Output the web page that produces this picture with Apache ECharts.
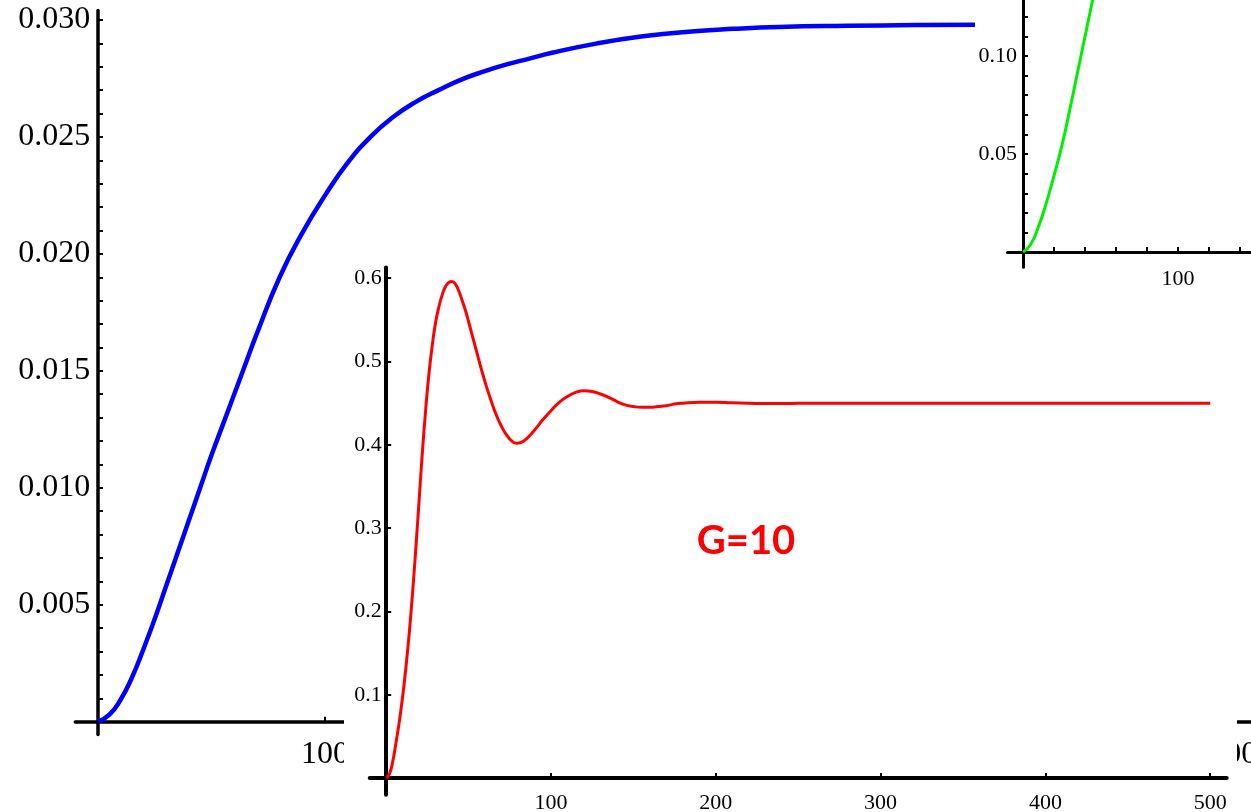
<!doctype html>
<html>
<head>
    <title>G=10 response</title>
    <script src="https://cdn.jsdelivr.net/npm/echarts@6/dist/echarts.min.js"></script>
</head>
<style>
    html, body {
        margin: 0;
        padding: 0;
        background: #fff;
    }
    #main {
        width: 1251px;
        height: 812px;
    }
</style>
<body>
<div id="main"></div>
<script>
  // background plot (blue)
  var blueT = [0, 5, 10, 15, 20, 25, 30, 35, 40, 45, 50, 55, 60, 65, 70, 80, 90, 100, 110, 120, 130,
               140, 150, 160, 170, 180, 190, 200, 220, 240, 260, 280, 300, 330, 360, 390];
  var blueV = [0, 0.0003, 0.00095, 0.0019, 0.0031, 0.0044, 0.0058, 0.0072, 0.0086, 0.0100, 0.0114,
               0.0127, 0.0140, 0.0153, 0.0166, 0.0190, 0.0209, 0.0225, 0.0239, 0.0250, 0.02585,
               0.0265, 0.0270, 0.02745, 0.0278, 0.0281, 0.02835, 0.0286, 0.0290, 0.0293, 0.0295,
               0.02962, 0.0297, 0.02975, 0.02978, 0.0298];
  var blueXLabels = [100, 200, 300, 400, 500];
  var blueYLabels = [0.005, 0.010, 0.015, 0.020, 0.025, 0.030];
  var blueYTicks = [0.001, 0.002, 0.003, 0.004, 0.005, 0.006, 0.007, 0.008, 0.009, 0.010,
                    0.011, 0.012, 0.013, 0.014, 0.015, 0.016, 0.017, 0.018, 0.019, 0.020,
                    0.021, 0.022, 0.023, 0.024, 0.025, 0.026, 0.027, 0.028, 0.029, 0.030];

  // middle inset (red, G=10)
  var redT = [0, 2, 4, 6, 8, 10, 12, 14, 16, 18, 20, 22, 24, 26, 28, 30, 32, 34, 36, 38, 40, 42, 44, 46, 48,
              50, 52, 55, 58, 61, 64, 67, 70, 73, 76, 79, 82, 85, 88, 91, 95, 100, 105, 110, 115, 120,
              125, 130, 135, 140, 145, 150, 155, 160, 165, 170, 175, 180, 190, 200, 210, 220, 230, 240,
              250, 270, 300, 350, 400, 450, 500];
  var redV = [0, 0.005, 0.020, 0.043, 0.068, 0.098, 0.133, 0.174, 0.222, 0.276, 0.334, 0.392, 0.443, 0.486,
              0.520, 0.547, 0.566, 0.580, 0.590, 0.595, 0.596, 0.593, 0.585, 0.574, 0.562,
              0.548, 0.533, 0.511, 0.489, 0.469, 0.451, 0.435, 0.422, 0.412, 0.405, 0.402, 0.403, 0.407,
              0.413, 0.420, 0.430, 0.441, 0.451, 0.458, 0.463, 0.465,
              0.464, 0.461, 0.457, 0.452, 0.448, 0.446, 0.445, 0.445, 0.446, 0.447, 0.449, 0.450, 0.451,
              0.451, 0.4505, 0.450, 0.4495, 0.4495,
              0.4498, 0.450, 0.450, 0.450, 0.450, 0.450, 0.450];
  var redXLabels = [100, 200, 300, 400, 500];
  var redYLabels = [0.1, 0.2, 0.3, 0.4, 0.5, 0.6];

  // top right inset (green)
  var greenT = [0, 5, 10, 15, 20, 25, 30, 35, 40, 45, 50];
  var greenV = [0, 0.004, 0.013, 0.025, 0.039, 0.054, 0.072, 0.091, 0.110, 0.129, 0.148];
  var greenXLabels = [100];
  var greenXTicks = [20, 40, 60, 80, 100, 120, 140];
  var greenYLabels = [0.05, 0.10, 0.15];
  var greenYTicks = [0.01, 0.02, 0.03, 0.04, 0.05, 0.06, 0.07, 0.08, 0.09, 0.10, 0.11, 0.12, 0.13];

  function pairs(t, v) {
    return t.map(function (x, i) { return [x, v[i]]; });
  }

  // labels stay at the grid edge, so margin is measured from there
  function axis(grid, min, max, labels, ticks, digits, fontSize, lineWidth, margin, z) {
    return {
      type: 'value',
      gridIndex: grid,
      min: min,
      max: max,
      z: z,
      splitLine: { show: false },
      axisLine: { show: true, onZero: true, lineStyle: { color: '#000', width: lineWidth } },
      axisTick: {
        show: true,
        inside: true,
        length: 5,
        customValues: ticks,
        lineStyle: { color: '#000', width: 2 }
      },
      axisLabel: {
        show: true,
        customValues: labels,
        margin: margin,
        color: '#000',
        fontFamily: 'Liberation Serif',
        fontSize: fontSize,
        formatter: function (v) { return v.toFixed(digits); }
      }
    };
  }

  var chart = echarts.init(document.getElementById('main'));

  chart.setOption({
    animation: false,
    backgroundColor: '#fff',
    grid: [
      { left: 75.3, top: 10.6, width: 1176, height: 724, containLabel: false, outerBoundsMode: 'none' },
      { left: 369.7, top: 267.4, width: 857, height: 527.3, containLabel: false, outerBoundsMode: 'none' },
      { left: 1007.5, top: -2.8, width: 245, height: 270, containLabel: false, outerBoundsMode: 'none' }
    ],
    xAxis: [
      axis(0, -10, 508, blueXLabels, blueXLabels, 0, 32, 3.5, -4, 0),
      axis(1, -10, 510, redXLabels, redXLabels, 0, 22, 4, -8, 10),
      axis(2, -10, 148, greenXLabels, greenXTicks, 0, 22, 3, -5, 21)
    ],
    yAxis: [
      axis(0, -0.00055, 0.0304, blueYLabels, blueYTicks, 3, 32, 3.5, -15, 0),
      axis(1, -0.02, 0.613, redYLabels, redYLabels, 1, 22, 4, -12, 10),
      axis(2, -0.0077, 0.13, greenYLabels, greenYTicks, 2, 22, 3, -9.5, 21)
    ],
    graphic: [
      { type: 'rect', z: 5, shape: { x: 344, y: 258, width: 893, height: 554 }, style: { fill: '#fff' } },
      { type: 'rect', z: 20, shape: { x: 975, y: 0, width: 276, height: 292 }, style: { fill: '#fff' } },
      {
        type: 'text', z: 30, x: 746, y: 541,
        style: {
          text: 'G=10', fill: '#ff0000', align: 'center', verticalAlign: 'middle',
          font: 'bold 40px Lato'
        }
      }
    ],
    series: [
      {
        type: 'line', xAxisIndex: 0, yAxisIndex: 0, z: 2,
        data: pairs(blueT, blueV), showSymbol: false, smooth: 0.5,
        lineStyle: { color: '#0000ff', width: 4.5 }
      },
      {
        type: 'line', xAxisIndex: 1, yAxisIndex: 1, z: 11,
        data: pairs(redT, redV), showSymbol: false, smooth: 0.5,
        lineStyle: { color: '#ff0000', width: 3 }
      },
      {
        type: 'line', xAxisIndex: 2, yAxisIndex: 2, z: 22,
        data: pairs(greenT, greenV), showSymbol: false, smooth: 0.5,
        lineStyle: { color: '#00ee00', width: 3 }
      }
    ]
  });
</script>
</body>
</html>
